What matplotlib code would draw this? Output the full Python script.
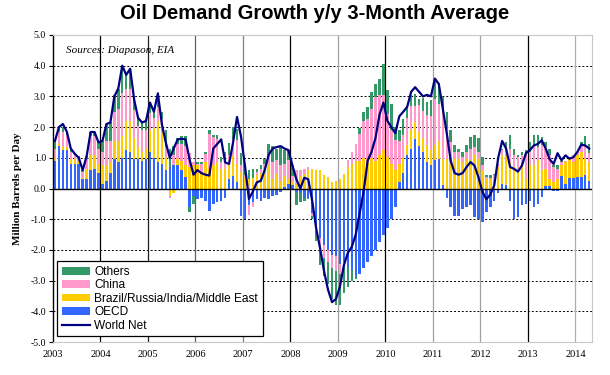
import numpy as np
import matplotlib
matplotlib.use("Agg")
import matplotlib.pyplot as plt

# monthly values, Jan 2003 .. Apr 2014 (million barrels per day)
years = [str(y) for y in range(2003, 2015)]

oecd = [
    0.9, 1.4, 1.25, 1.25, 0.8, 0.8, 0.8, 0.3, 0.3, 0.6, 0.65, 0.5,
    0.15, 0.25, 0.5, 0.95, 0.85, 1.0, 1.25, 1.2, 0.95, 0.95, 0.9, 0.95,
    1.2, 1.0, 0.85, 0.8, 0.6, 0.7, 0.75, 0.75, 0.6, 0.37, -0.6, -0.23,
    -0.35, -0.3, -0.4, -0.72, -0.5, -0.45, -0.4, -0.3, 0.32, 0.42, 0.2, -0.9,
    -1.0, -0.55, -0.45, -0.35, -0.4, -0.3, -0.35, -0.25, -0.2, -0.1, 0.05, 0.15,
    0.1, -0.1, -0.15, -0.3, -0.3, -0.8, -1.3, -1.6, -1.85, -2.0, -2.15, -2.2,
    -2.45, -2.4, -2.55, -2.65, -2.85, -2.8, -2.6, -2.4, -2.2, -2.0, -1.75, -1.5,
    -1.3, -1.0, -0.6, 0.2, 0.5, 1.1, 1.3, 1.6, 1.4, 1.2, 0.86, 0.75,
    0.92, 0.95, 0.1, -0.3, -0.6, -0.88, -0.88, -0.66, -0.6, -0.55, -0.94, -1.0,
    -1.1, -0.75, -0.6, -0.4, -0.15, 0.15, 0.12, -0.4, -1.0, -0.94, -0.55, -0.5,
    -0.4, -0.6, -0.5, -0.28, 0.08, 0.08, -0.07, -0.07, 0.42, 0.15, 0.34, 0.34,
    0.37, 0.37, 0.45, 0.26,
]
brime = [
    0.1, 0.05, 0.1, 0.1, 0.15, 0.15, 0.1, 0.05, 0.35, 0.5, 0.45, 0.3,
    0.6, 0.5, 0.35, 0.6, 0.7, 0.7, 0.95, 1.0, 0.7, 0.4, 0.3, 0.35,
    0.7, 0.98, 1.36, 1.2, 0.43, -0.23, -0.15, 0.2, 0.3, 0.4, 0.7, 0.75,
    0.75, 0.48, 0.86, 0.64, 0.75, 0.86, 0.64, 0.65, 0.55, 0.65, 0.6, 0.55,
    0.35, 0.3, 0.35, 0.45, 0.5, 0.5, 0.75, 0.32, 0.48, 0.26, 0.37, 0.17,
    0.1, 0.15, 0.42, 0.48, 0.59, 0.64, 0.59, 0.59, 0.45, 0.37, 0.2, 0.26,
    0.32, 0.48, 0.7, 0.8, 0.9, 0.9, 1.0, 0.85, 1.0, 0.9, 1.1, 1.24,
    1.02, 0.8, 0.59, 0.6, 0.5, 0.33, 0.6, 0.55, 0.44, 0.44, 0.55, 0.5,
    0.5, 0.6, 0.87, 0.97, 0.97, 0.97, 0.97, 0.86, 0.97, 0.92, 1.08, 0.97,
    0.59, 0.32, 0.3, 0.37, 0.7, 0.93, 0.95, 0.86, 0.7, 0.59, 0.7, 0.32,
    0.75, 0.75, 0.92, 0.59, 0.56, 0.24, 0.2, 0.32, 0.33, 0.7, 0.63, 0.52,
    0.71, 0.82, 0.52, 0.6,
]
china = [
    0.3, 0.4, 0.5, 0.4, 0.25, 0.15, 0.1, 0.2, 0.3, 0.6, 0.6, 0.5,
    0.45, 0.8, 0.7, 0.95, 1.05, 1.4, 1.05, 1.05, 0.9, 0.7, 0.7, 0.6,
    0.55, 0.33, 0.44, 0.27, 0.33, -0.07, 0.35, 0.5, 0.55, 0.6, 0.45, 0.1,
    0.05, 0.33, 0.27, 1.14, 0.93, 0.76, 0.22, 0.22, 0.22, 0.55, 0.77, 0.22,
    0.1, -0.3, -0.15, 0.1, 0.15, 0.3, 0.33, 0.54, 0.44, 0.49, 0.38, 0.6,
    0.22, 0.45, 0.17, 0.16, 0.11, -0.1, -0.1, -0.4, -0.4, -0.4, -0.45, -0.5,
    -0.35, -0.1, 0.22, 0.38, 0.55, 0.87, 1.2, 1.42, 1.6, 2.07, 1.96, 1.8,
    1.42, 1.09, 0.98, 0.75, 0.75, 0.87, 0.8, 0.55, 0.87, 0.87, 0.98, 1.1,
    1.5, 1.2, 1.63, 0.98, 0.55, 0.22, 0.22, 0.16, 0.22, 0.38, 0.27, 0.22,
    0.16, 0.05, 0.05, 0.08, 0.05, 0.16, 0.27, 0.44, 0.38, 0.44, 0.38, 0.76,
    0.44, 0.65, 0.44, 0.82, 0.7, 0.76, 0.5, 0.33, 0.11, 0.03, 0.05, 0.22,
    0.11, 0.22, 0.45, 0.3,
]
others = [
    0.2, 0.15, 0.15, 0.1, 0.1, 0.05, 0.05, 0.05, 0.1, 0.15, 0.15, 0.25,
    0.35, 0.55, 0.6, 0.55, 0.65, 0.9, 0.5, 0.65, 0.4, 0.3, 0.3, 0.35,
    0.35, 0.22, 0.38, 0.22, 0.55, 0.6, 0.3, 0.2, 0.25, 0.35, -0.15, -0.27,
    0.05, 0.05, 0.05, 0.11, 0.05, 0.11, 0.16, 0.33, 0.38, 0.38, 0.38, 0.4,
    0.3, 0.3, 0.3, 0.1, 0.1, 0.15, 0.38, 0.54, 0.38, 0.6, 0.44, 0.35,
    0.33, -0.45, -0.3, -0.1, -0.05, -0.1, -0.3, -0.5, -0.6, -0.7, -1.0, -1.1,
    -1.0, -0.9, -0.65, -0.35, -0.1, 0.2, 0.3, 0.38, 0.54, 0.45, 0.5, 1.0,
    0.76, 0.87, 0.44, 0.35, 0.5, 0.38, 0.33, 0.38, 0.22, 0.44, 0.44, 0.54,
    0.65, 0.7, 0.38, 0.55, 0.38, 0.22, 0.1, 0.16, 0.22, 0.38, 0.38, 0.44,
    0.27, 0.08, 0.1, 0.03, 0.05, 0.05, 0.16, 0.44, 0.2, 0.05, 0.11, 0.16,
    0.33, 0.33, 0.38, 0.27, 0.16, 0.22, 0.05, 0.1, 0.05, 0.0, 0.0, -0.05,
    -0.05, 0.1, 0.3, 0.3,
]
world_net = [
    1.55, 2.0, 2.1, 1.85, 1.3, 1.13, 1.0, 0.6, 1.05, 1.84, 1.84, 1.5,
    1.55, 2.1, 2.15, 3.0, 3.26, 4.0, 3.7, 3.9, 2.9, 2.3, 2.15, 2.2,
    2.8, 2.5, 3.1, 2.1, 1.5, 1.0, 1.3, 1.6, 1.62, 1.6, 0.95, 0.45,
    0.6, 0.5, 0.45, 0.42, 1.3, 1.45, 1.6, 0.85, 0.8, 1.5, 2.33, 1.7,
    0.75, -0.34, -0.1, 0.2, 0.25, 0.6, 1.1, 1.3, 1.35, 1.38, 1.3, 1.25,
    0.75, 0.3, 0.0, 0.35, 0.3, -0.4, -1.3, -1.95, -2.7, -3.3, -3.7, -3.6,
    -3.2, -2.5, -2.1, -1.9, -1.5, -0.8, -0.1, 0.9, 1.2, 1.65, 2.4, 2.8,
    2.2, 2.0, 1.8, 2.35, 2.5, 2.66, 3.15, 3.3, 3.15, 3.0, 3.05, 3.0,
    3.58, 3.4, 2.6, 1.8, 0.9, 0.5, 0.45, 0.5, 0.7, 0.86, 0.75, 0.37,
    -0.1, -0.35, -0.2, 0.1, 1.0, 1.55, 1.3, 0.7, 0.64, 0.55, 0.75, 1.15,
    1.25, 1.4, 1.45, 1.57, 1.3, 0.95, 0.8, 1.15, 0.92, 1.08, 0.97, 1.02,
    1.19, 1.43, 1.4, 1.3,
]

series = [
    ("OECD", oecd, "#3366FF"),
    ("Brazil/Russia/India/Middle East", brime, "#FFCC00"),
    ("China", china, "#FF99CC"),
    ("Others", others, "#339966"),
]

n = len(world_net)
x = np.arange(n) + 0.5

serif = "Liberation Serif"
sans = "Liberation Sans"

fig = plt.figure(figsize=(6.1, 3.75), dpi=100)
ax = fig.add_axes([53 / 610, 1 - 342 / 375, 539 / 610, 307 / 375])

# grid: dotted horizontal, year verticals
for v in [-4, -3, -2, -1, 1, 2, 3, 4]:
    ax.axhline(v, color="black", lw=0.7, ls=(0, (2, 2)), zorder=0)
year_colors = ["#000000", "#202020", "#606060", "#808080", "#000000", "#a0a0a0",
               "#000000", "#a0a0a0", "#a0a0a0", "#000000", "#b0b0b0"]
for k, c in enumerate(year_colors, start=1):
    ax.axvline(12 * k, color=c, lw=0.9, zorder=0)

pos_base = np.zeros(n)
neg_base = np.zeros(n)
handles = {}
for name, vals, color in series:
    v = np.array(vals)
    bottom = np.where(v >= 0, pos_base, neg_base)
    h = ax.bar(x, v, width=0.62, bottom=bottom, color=color, linewidth=0, zorder=2)
    handles[name] = h
    pos_base = pos_base + np.clip(v, 0, None)
    neg_base = neg_base + np.clip(v, None, 0)

ax.axhline(0, color="black", lw=1.0, zorder=3)
line, = ax.plot(x, world_net, color="#000080", lw=1.6, zorder=4)

ax.set_xlim(0, 136.2)
ax.set_ylim(-5, 5)
ax.set_yticks(np.arange(-5, 5.1, 1.0))
ax.set_yticklabels([f"{v:.1f}" for v in np.arange(-5, 5.1, 1.0)],
                   fontfamily=serif, fontsize=7)
ax.set_xticks(np.arange(len(years)) * 12)
ax.set_xticklabels(years, fontfamily=serif, fontsize=7.5)
ax.tick_params(axis="x", length=0, pad=6)
ax.tick_params(axis="y", length=3, width=0.8, pad=2)

for s in ["top", "right", "bottom"]:
    ax.spines[s].set_color("#c8c8c8")
ax.spines["left"].set_color("black")
ax.spines["left"].set_linewidth(1.0)

ax.set_ylabel("Million Barrels per Day", fontfamily=serif, fontweight="bold",
              fontsize=8, labelpad=6)
fig.suptitle("Oil Demand Growth y/y 3-Month Average", fontfamily=sans,
             fontweight="bold", fontsize=14.5, x=0.515, y=0.99)
ax.text(0.025, 0.965, "Sources: Diapason, EIA", transform=ax.transAxes,
        fontfamily=serif, fontstyle="italic", fontsize=8, va="top", zorder=5)

order = ["Others", "China", "Brazil/Russia/India/Middle East", "OECD"]
leg = ax.legend([handles[k] for k in order] + [line], order + ["World Net"],
                loc="lower left", bbox_to_anchor=(0.008, 0.018),
                prop={"family": sans, "size": 8.6}, frameon=True, fancybox=False,
                edgecolor="black", framealpha=1, borderpad=0.4,
                labelspacing=0.12, handlelength=2.3, handleheight=0.6,
                handletextpad=0.4, borderaxespad=0)
leg.get_frame().set_linewidth(0.9)
leg.set_zorder(6)

fig.savefig("out.png", dpi=100)
